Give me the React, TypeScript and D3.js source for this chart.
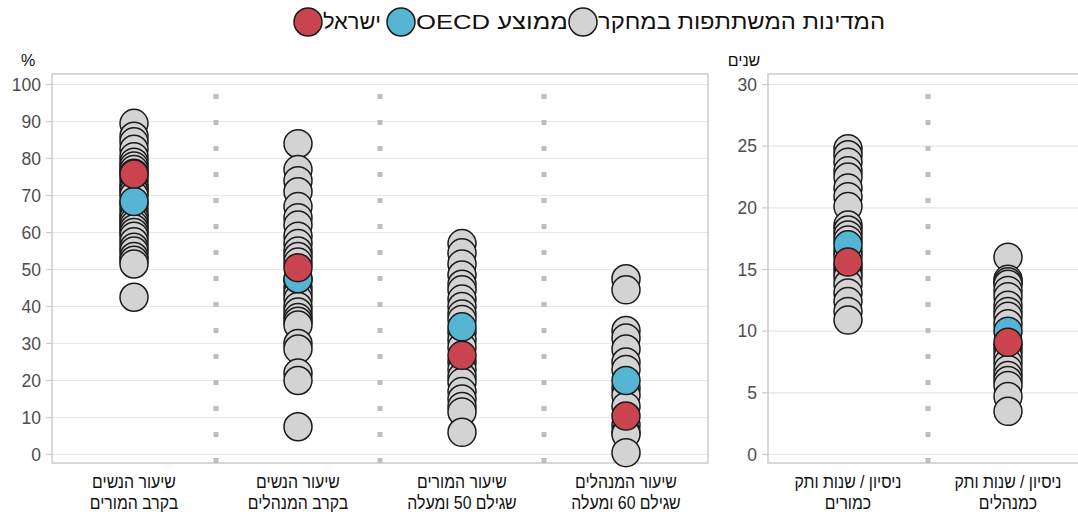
import { useEffect } from "react";
import * as d3 from "d3";

// ---- data ----
const pctCategories = [
  ["שיעור הנשים", "בקרב המורים"],
  ["שיעור הנשים", "בקרב המנהלים"],
  ["שיעור המורים", "שגילם 50 ומעלה"],
  ["שיעור המנהלים", "שגילם 60 ומעלה"],
];
const yearCategories = [
  ["ניסיון / שנות ותק", "כמורים"],
  ["ניסיון / שנות ותק", "כמנהלים"],
];

const womenTeachers = [89.5, 86, 84.5, 82.5, 80.5, 79, 78, 77, 76, 74.5, 73, 72, 71, 70, 68, 66.5, 65, 64, 63, 62, 61, 60, 59, 57.5, 56, 55, 53.5, 52.5, 51.5, 42.5];
const womenPrincipals = [84, 77, 74, 71, 67, 64, 62, 59, 57, 55, 53.5, 52, 47, 45, 43.5, 42, 40, 38.5, 37, 36, 35, 30, 28.5, 22, 20, 7.5];
const teachers50 = [57, 54.5, 51.5, 48.5, 46, 44.5, 42, 40, 38, 36.5, 33, 31, 29, 25, 23, 21, 19.5, 17, 15, 13, 11.5, 6];
const principals60 = [47.5, 44.5, 33.5, 31.5, 28.5, 25, 23, 18, 16, 13, 8, 6, 5.5, 0.5];
const teacherExp = [24.8, 24.3, 23.7, 23.0, 22.5, 21.6, 20.9, 20.1, 18.6, 18.2, 17.8, 17.4, 16.5, 16.1, 15.2, 14.8, 14.4, 13.8, 13.1, 12.4, 11.6, 10.9];
const principalExp = [16.0, 14.2, 14.0, 13.8, 13.3, 12.8, 12.1, 11.6, 11.2, 10.6, 8.8, 8.4, 7.9, 7.4, 6.9, 6.4, 6.0, 5.6, 4.7, 3.5];

const pctIsrael = [75.8, 50.5, 26.8, 10.4];
const pctOecd = [68.4, 47.5, 34.5, 20];
const yearIsrael = [15.6, 9.1];
const yearOecd = [17.0, 10.0];

const pctTicks = [0, 10, 20, 30, 40, 50, 60, 70, 80, 90, 100];
const yearTicks = [0, 5, 10, 15, 20, 25, 30];

const legendItems = [
  { label: "ישראל", color: "#c9444f" },
  { label: "ממוצע OECD", color: "#56b5d3" },
  { label: "המדינות המשתתפות במחקר", color: "#d3d3d3" },
];

const COLORS = { country: "#d3d3d3", oecd: "#56b5d3", israel: "#c9444f" };
const FONT = "'Liberation Sans', Arial, sans-serif";

const W = 1078;
const H = 512;
const TOP = 74;
const BOTTOM = 463;
const R = 14;

interface PanelProps {
  x0: number;
  x1: number;
  max: number;
  ticks: number[];
  unit: string;
  categories: string[][];
  countries: number[][];
  israel: number[];
  oecd: number[];
}

function Panel({ x0, x1, max, ticks, unit, categories, countries, israel, oecd }: PanelProps) {
  const x = d3
    .scaleBand<number>()
    .domain(categories.map((_, i) => i))
    .range([x0, x1]);
  const y = d3.scaleLinear().domain([0, max]).range([454.5, 84.5]);
  const cx = (i: number) => (x(i) ?? 0) + x.bandwidth() / 2;

  return (
    <g>
      {/* grid */}
      {ticks.map((t) => (
        <line key={t} x1={x0} x2={x1} y1={y(t)} y2={y(t)} stroke="#e6e6e6" strokeWidth={1.2} />
      ))}
      {/* frame */}
      <rect x={x0} y={TOP} width={x1 - x0} height={BOTTOM - TOP} fill="none" stroke="#cccccc" strokeWidth={1.5} />
      {/* separators */}
      {categories.slice(1).map((_, i) => (
        <line
          key={i}
          x1={x(i + 1)}
          x2={x(i + 1)}
          y1={94}
          y2={BOTTOM + 1}
          stroke="#bdbdbd"
          strokeWidth={5}
          strokeDasharray="5,21"
        />
      ))}
      {/* y axis */}
      {ticks.map((t) => (
        <g key={t}>
          <line x1={x0 - 6} x2={x0} y1={y(t)} y2={y(t)} stroke="#cccccc" strokeWidth={1.2} />
          <text
            x={x0 - 11}
            y={y(t)}
            dy="0.36em"
            textAnchor="end"
            fontFamily={FONT}
            fontSize={17.5}
            fill="#4d4d4d"
          >
            {t}
          </text>
        </g>
      ))}
      <text x={x0 - 24} y={66} textAnchor="middle" fontFamily={FONT} fontSize={16} fill="#111" direction="rtl">
        {unit}
      </text>
      {/* points */}
      {countries.map((vals, i) =>
        vals.map((v, j) => (
          <circle key={`${i}-${j}`} cx={cx(i)} cy={y(v)} r={R} fill={COLORS.country} stroke="#1a1a1a" strokeWidth={1.5} />
        ))
      )}
      {oecd.map((v, i) => (
        <circle key={`o${i}`} cx={cx(i)} cy={y(v)} r={R} fill={COLORS.oecd} stroke="#1a1a1a" strokeWidth={1.5} />
      ))}
      {israel.map((v, i) => (
        <circle key={`i${i}`} cx={cx(i)} cy={y(v)} r={R} fill={COLORS.israel} stroke="#1a1a1a" strokeWidth={1.5} />
      ))}
      {/* category labels (condensed look) */}
      {categories.map((lines, i) =>
        lines.map((l, k) => (
          <text
            key={`${i}-${k}`}
            transform={`translate(${cx(i)},${488 + k * 21}) scale(0.88,1)`}
            textAnchor="middle"
            fontFamily={FONT}
            fontSize={18}
            fill="#111"
            direction="rtl"
          >
            {l}
          </text>
        ))
      )}
    </g>
  );
}

export default function App() {
  useEffect(() => {
    document.body.style.margin = "0";
  }, []);

  const legendX = [308, 401, 583];
  const legendLen = [58, 152, 287];

  return (
    <svg width={W} height={H} style={{ display: "block", background: "#fff" }}>
      <Panel
        x0={52}
        x1={708}
        max={100}
        ticks={pctTicks}
        unit="%"
        categories={pctCategories}
        countries={[womenTeachers, womenPrincipals, teachers50, principals60]}
        israel={pctIsrael}
        oecd={pctOecd}
      />
      <Panel
        x0={768}
        x1={1088}
        max={30}
        ticks={yearTicks}
        unit="שנים"
        categories={yearCategories}
        countries={[teacherExp, principalExp]}
        israel={yearIsrael}
        oecd={yearOecd}
      />
      {/* legend */}
      {legendItems.map((it, i) => (
        <g key={it.label}>
          <circle cx={legendX[i]} cy={22} r={R} fill={it.color} stroke="#1a1a1a" strokeWidth={1.5} />
          <text
            x={legendX[i] + R + 1 + legendLen[i] / 2}
            y={22}
            dy="0.35em"
            textAnchor="middle"
            direction="rtl"
            fontFamily={FONT}
            fontSize={21}
            fill="#111"
            textLength={legendLen[i]}
            lengthAdjust="spacingAndGlyphs"
          >
            {it.label}
          </text>
        </g>
      ))}
    </svg>
  );
}
